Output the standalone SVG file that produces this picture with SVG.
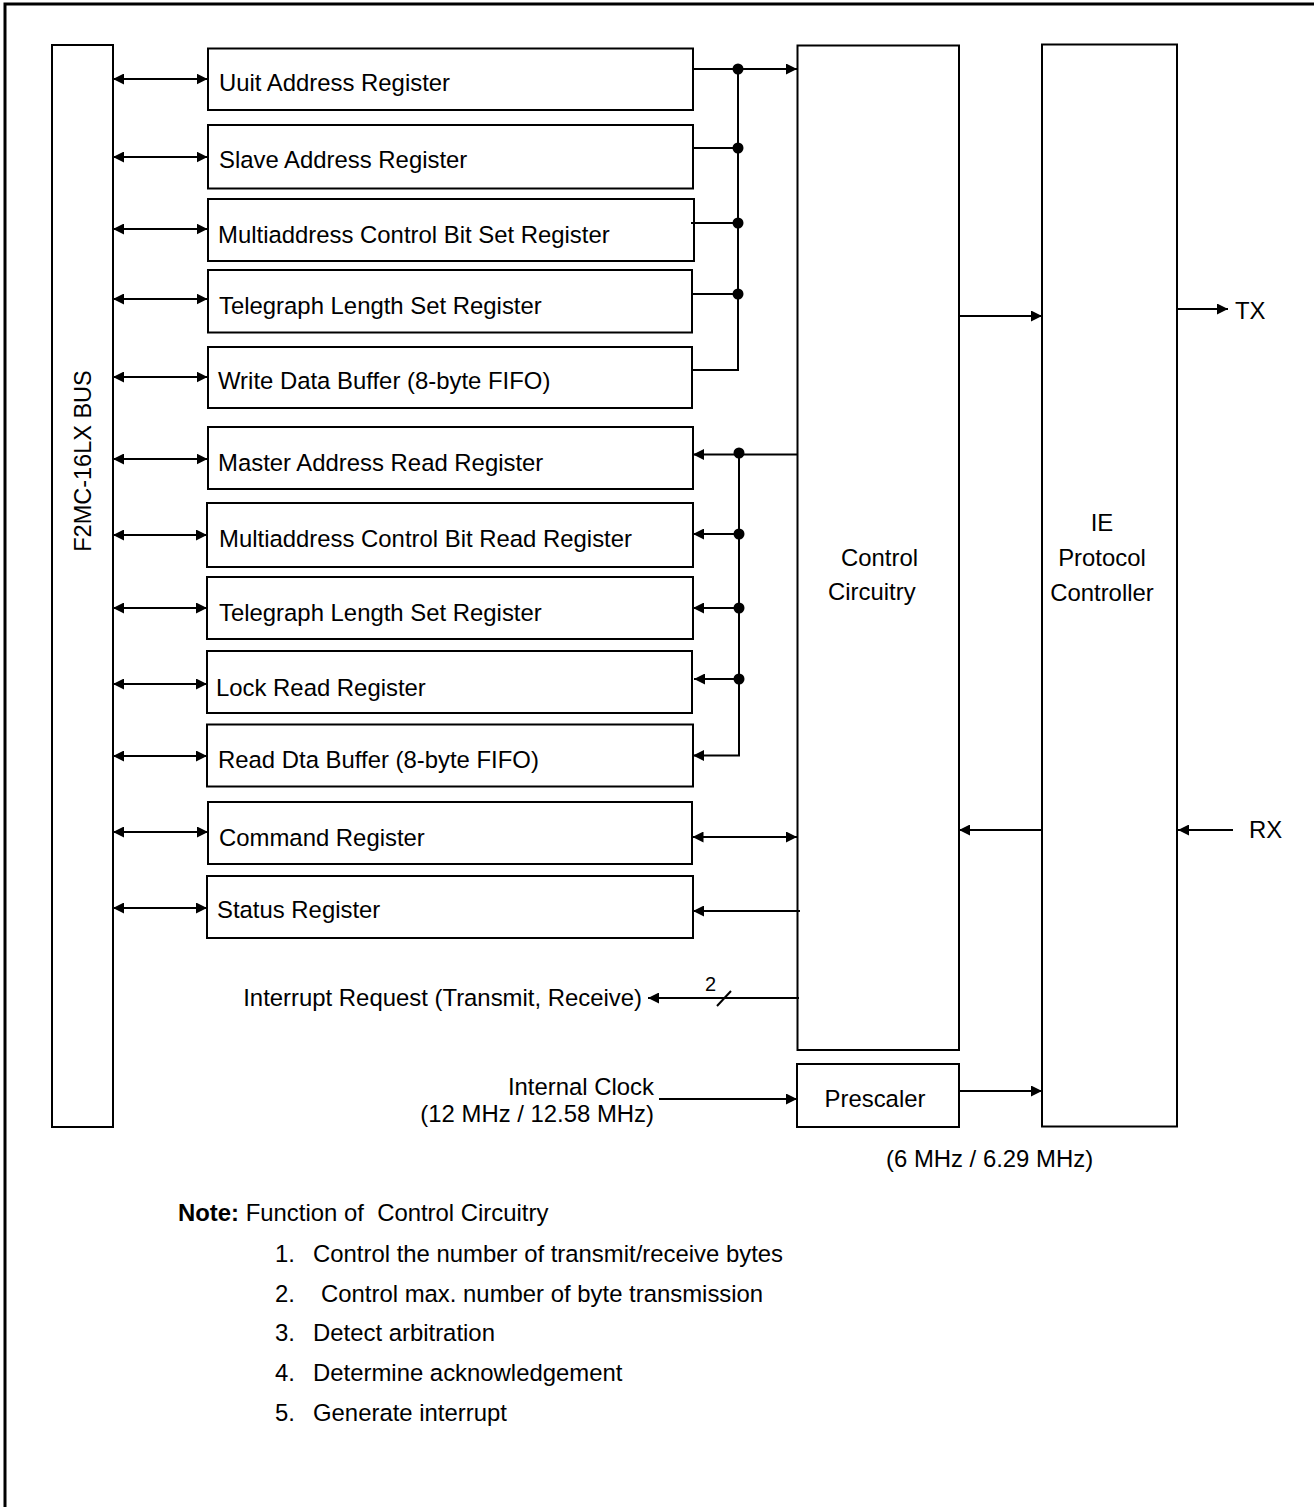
<svg xmlns="http://www.w3.org/2000/svg" width="1314" height="1507" viewBox="0 0 1314 1507">
<style>
text{font-family:"Liberation Sans",Arial,sans-serif;font-size:23.9px;fill:#000}
.box{fill:#fff;stroke:#000;stroke-width:2}
.ln{fill:none;stroke:#000;stroke-width:2}
.a1{marker-end:url(#ah)}
.a2{marker-start:url(#ah);marker-end:url(#ah)}
.mid{text-anchor:middle}
.end{text-anchor:end}
</style>
<defs>
<marker id="ah" viewBox="0 0 10 10" refX="10" refY="5" markerWidth="11" markerHeight="11" markerUnits="userSpaceOnUse" orient="auto-start-reverse">
<path d="M0,0 L10,5 L0,10 z" fill="#000"/>
</marker>
</defs>
<rect width="1314" height="1507" fill="#fff"/>
<path d="M5,1507 V4 H1314" fill="none" stroke="#000" stroke-width="3"/>

<g id="bus"><rect class="box" x="52" y="45" width="61" height="1082"/>
<text transform="translate(91,461) rotate(-90)" class="mid" style="font-size:23.5px">F2MC-16LX BUS</text></g>

<g id="r1"><rect class="box" x="208" y="48.5" width="485" height="61.5"/><text x="219" y="91">Uuit Address Register</text></g>
<g id="r2"><rect class="box" x="208" y="125" width="485" height="63.5"/><text x="219" y="168">Slave Address Register</text></g>
<g id="r3"><rect class="box" x="208" y="199" width="486" height="62"/><text x="218" y="243">Multiaddress Control Bit Set Register</text></g>
<g id="r4"><rect class="box" x="208" y="270" width="484" height="62.5"/><text x="219" y="314">Telegraph Length Set Register</text></g>
<g id="r5"><rect class="box" x="208" y="347" width="484" height="61"/><text x="218" y="389">Write Data Buffer (8-byte FIFO)</text></g>
<g id="r6"><rect class="box" x="208" y="427" width="485" height="62"/><text x="218" y="471">Master Address Read Register</text></g>
<g id="r7"><rect class="box" x="207" y="503" width="486" height="64"/><text x="219" y="547">Multiaddress Control Bit Read Register</text></g>
<g id="r8"><rect class="box" x="207" y="577" width="486" height="62"/><text x="219" y="621">Telegraph Length Set Register</text></g>
<g id="r9"><rect class="box" x="207" y="651" width="485" height="62"/><text x="216" y="696">Lock Read Register</text></g>
<g id="r10"><rect class="box" x="207" y="724.5" width="486" height="62"/><text x="218" y="768">Read Dta Buffer (8-byte FIFO)</text></g>
<g id="r11"><rect class="box" x="208" y="802" width="484" height="62"/><text x="219" y="846">Command Register</text></g>
<g id="r12"><rect class="box" x="207" y="876" width="486" height="62"/><text x="217" y="918">Status Register</text></g>

<g id="control"><rect class="box" x="797.5" y="45.5" width="161.5" height="1004.5"/>
<text x="841" y="566">Control</text><text x="828" y="600">Circuitry</text></g>
<g id="ie"><rect class="box" x="1042" y="44.5" width="135" height="1082"/>
<text x="1102" y="531" class="mid">IE</text><text x="1102" y="566" class="mid">Protocol</text><text x="1102" y="601" class="mid">Controller</text></g>
<g id="prescaler"><rect class="box" x="797" y="1064" width="162" height="63"/>
<text x="875" y="1107" class="mid">Prescaler</text></g>

<g id="connectors">
<line class="ln a2" x1="113" y1="79" x2="207.5" y2="79"/>
<line class="ln a2" x1="113" y1="157" x2="207.5" y2="157"/>
<line class="ln a2" x1="113" y1="229" x2="207.5" y2="229"/>
<line class="ln a2" x1="113" y1="299" x2="207.5" y2="299"/>
<line class="ln a2" x1="113" y1="377" x2="207.5" y2="377"/>
<line class="ln a2" x1="113" y1="459" x2="207.5" y2="459"/>
<line class="ln a2" x1="113" y1="535" x2="207" y2="535"/>
<line class="ln a2" x1="113" y1="608" x2="207" y2="608"/>
<line class="ln a2" x1="113" y1="684" x2="207" y2="684"/>
<line class="ln a2" x1="113" y1="756" x2="207" y2="756"/>
<line class="ln a2" x1="113" y1="832" x2="208" y2="832"/>
<line class="ln a2" x1="113" y1="908" x2="207" y2="908"/>

<line class="ln a1" x1="693" y1="69" x2="797" y2="69"/>
<polyline class="ln" points="738,69 738,370 692,370"/>
<line class="ln" x1="693" y1="148" x2="738" y2="148"/>
<line class="ln" x1="691" y1="223" x2="738" y2="223"/>
<line class="ln" x1="692" y1="294" x2="738" y2="294"/>
<circle cx="738" cy="69" r="5.5"/>
<circle cx="738" cy="148" r="5.5"/>
<circle cx="738" cy="223" r="5.5"/>
<circle cx="738" cy="294" r="5.5"/>

<line class="ln a1" x1="797.5" y1="454.5" x2="693" y2="454.5"/>
<line class="ln" x1="739" y1="453" x2="739" y2="756"/>
<line class="ln a1" x1="739" y1="534" x2="693" y2="534"/>
<line class="ln a1" x1="739" y1="608" x2="693" y2="608"/>
<line class="ln a1" x1="739" y1="679" x2="694" y2="679"/>
<line class="ln a1" x1="740" y1="755.5" x2="693" y2="755.5"/>
<circle cx="739" cy="453" r="5.5"/>
<circle cx="739" cy="534" r="5.5"/>
<circle cx="739" cy="608" r="5.5"/>
<circle cx="739" cy="679" r="5.5"/>

<line class="ln a2" x1="692.5" y1="837" x2="797" y2="837"/>
<line class="ln a1" x1="800" y1="911" x2="693" y2="911"/>
<line class="ln a1" x1="799" y1="998" x2="648" y2="998"/>
<line class="ln" x1="717" y1="1006" x2="731" y2="991"/>

<line class="ln a1" x1="959" y1="316" x2="1042" y2="316"/>
<line class="ln a1" x1="1042" y1="830" x2="959" y2="830"/>
<line class="ln a1" x1="1177" y1="309" x2="1228" y2="309"/>
<line class="ln a1" x1="1233" y1="830" x2="1178" y2="830"/>
<line class="ln a1" x1="659" y1="1099" x2="797" y2="1099"/>
<line class="ln a1" x1="959" y1="1091" x2="1042" y2="1091"/>
</g>

<g id="labels">
<text x="1235" y="319">TX</text>
<text x="1249" y="838">RX</text>
<text x="642" y="1006" class="end">Interrupt Request (Transmit, Receive)</text>
<text x="705" y="991" style="font-size:20px">2</text>
<text x="654" y="1095" class="end">Internal Clock</text>
<text x="654" y="1122" class="end">(12 MHz / 12.58 MHz)</text>
<text x="886" y="1167">(6 MHz / 6.29 MHz)</text>
</g>

<g id="note">
<text x="178" y="1221"><tspan font-weight="bold">Note:</tspan> Function of&#160; Control Circuitry</text>
<text x="275" y="1262">1.</text><text x="313" y="1262">Control the number of transmit/receive bytes</text>
<text x="275" y="1302">2.</text><text x="321" y="1302">Control max. number of byte transmission</text>
<text x="275" y="1341">3.</text><text x="313" y="1341">Detect arbitration</text>
<text x="275" y="1381">4.</text><text x="313" y="1381">Determine acknowledgement</text>
<text x="275" y="1421">5.</text><text x="313" y="1421">Generate interrupt</text>
</g>
</svg>
